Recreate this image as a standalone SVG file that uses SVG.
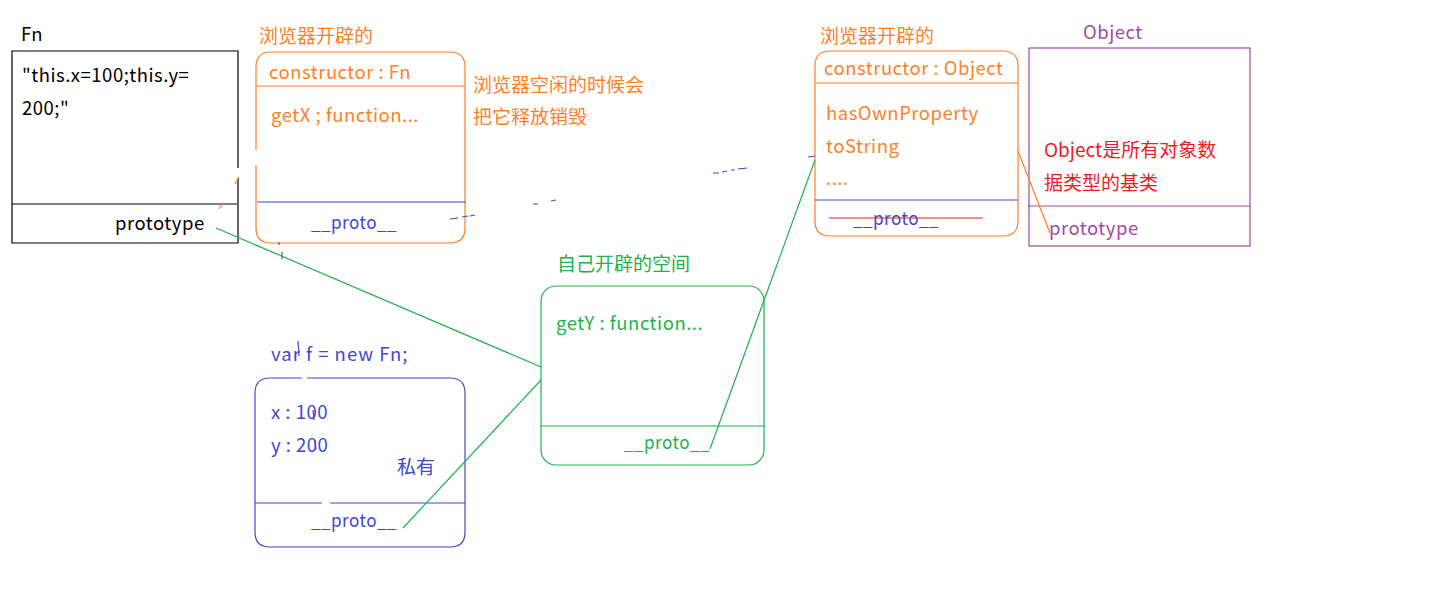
<svg xmlns="http://www.w3.org/2000/svg" width="1436" height="590" viewBox="0 0 1436 590">
<style>
text{font-family:"Noto Sans CJK SC","Noto Sans",sans-serif;font-size:18.5px;letter-spacing:0.5px}
text.c{font-size:19px;letter-spacing:0}
.k{fill:#000}.o{fill:#FF7F27}.b{fill:#3F48CC}.g{fill:#22B14C}.p{fill:#A349A4}.r{fill:#ED1C24}
.sk{stroke:#000}.so{stroke:#FF7F27}.sb{stroke:#3F48CC}.sg{stroke:#22B14C}.sp{stroke:#A349A4}.sr{stroke:#ED1C24}
line,rect,path{fill:none;stroke-width:1.2}
</style>
<rect width="1436" height="590" fill="#fff"/>
<g id="fn">
<path class="sk" d="M238,168 V51 H12 V243 H238 V178"/>
<line class="sk" x1="12" y1="204" x2="237" y2="204"/>
<text class="k" x="21" y="41">Fn</text>
<text class="k" x="22" y="82">"this.x=100;this.y=</text>
<text class="k" x="22" y="115">200;"</text>
<text class="k" x="115" y="230">prototype</text>
<line class="so" x1="235" y1="184" x2="239" y2="177"/>
<line class="so" x1="219" y1="209" x2="223" y2="203"/>
</g>
<g id="fnproto">
<path class="so" d="M256,150 V67 Q256,52 271,52 H450 Q465,52 465,67 V228 Q465,243 450,243 H271 Q256,243 256,228 V165"/>
<line class="so" x1="256" y1="86" x2="465" y2="86"/>
<line class="sb" x1="257" y1="202" x2="466" y2="202"/>
<text class="o c" x="259" y="43">浏览器开辟的</text>
<text class="o" x="269" y="79">constructor : Fn</text>
<text class="o" x="271" y="122">getX ; function...</text>
<text class="b" x="311" y="229" textLength="86" lengthAdjust="spacingAndGlyphs">__proto__</text>
<text class="o c" x="473" y="92">浏览器空闲的时候会</text>
<text class="o c" x="473" y="124">把它释放销毁</text>
<line class="sb" x1="279" y1="242" x2="279" y2="245"/>
<line class="sb" x1="282" y1="252" x2="282" y2="259"/>
</g>
<g id="objproto">
<path class="so" d="M815,66 Q815,51 830,51 H1003 Q1018,51 1018,66 V221 Q1018,236 1003,236 H830 Q815,236 815,221 Z"/>
<line class="so" x1="815" y1="83" x2="1018" y2="83"/>
<line class="sb" x1="815" y1="200" x2="1018" y2="200"/>
<text class="o c" x="820" y="43">浏览器开辟的</text>
<text class="o" x="824" y="75">constructor : Object</text>
<text class="o" x="826" y="120">hasOwnProperty</text>
<text class="o" x="826" y="153">toString</text>
<text class="o" x="826" y="185">....</text>
<text class="b" x="853" y="225" textLength="86" lengthAdjust="spacingAndGlyphs">__proto__</text>
<line class="sr" x1="829" y1="218" x2="983" y2="218"/>
</g>
<g id="object">
<rect class="sp" x="1029" y="48" width="221" height="198"/>
<line class="sp" x1="1028" y1="206" x2="1250" y2="206"/>
<text class="p" x="1083" y="39">Object</text>
<text class="r c" x="1044" y="157">Object是所有对象数</text>
<text class="r c" x="1044" y="190">据类型的基类</text>
<text class="p" x="1049" y="235">prototype</text>
</g>
<g id="own">
<rect class="sg" x="541" y="286" width="223" height="179" rx="15"/>
<line class="sg" x1="540" y1="426" x2="765" y2="426"/>
<text class="g c" x="557" y="271">自己开辟的空间</text>
<text class="g" x="556" y="330">getY : function...</text>
<text class="g" x="624" y="449" textLength="86" lengthAdjust="spacingAndGlyphs">__proto__</text>
</g>
<g id="f">
<path class="sb" d="M302,378 H270 Q255,378 255,393 V532 Q255,547 270,547 H450 Q465,547 465,532 V393 Q465,378 450,378 H307"/>
<line class="sb" x1="255" y1="503" x2="322" y2="503"/>
<line class="sb" x1="330" y1="503" x2="465" y2="503"/>
<text class="b" x="271" y="361" textLength="137" lengthAdjust="spacing">var f = new Fn;</text>
<text class="b" x="271" y="419">x : 100</text>
<text class="b" x="271" y="452">y : 200</text>
<text class="b c" x="397" y="474">私有</text>
<text class="b" x="311" y="527" textLength="86" lengthAdjust="spacingAndGlyphs">__proto__</text>
<line class="sb" x1="298" y1="341" x2="299" y2="356"/>
<line class="sb" x1="313" y1="410" x2="314" y2="420"/>
<line class="sb" x1="315" y1="440" x2="316" y2="450"/>
</g>
<g id="connectors">
<line class="sg" x1="216" y1="228" x2="541" y2="367"/>
<line class="sg" x1="541" y1="380" x2="403" y2="528"/>
<line class="sg" x1="710" y1="449" x2="815" y2="160"/>
<line class="so" x1="1018" y1="151" x2="1050" y2="233"/>
<path class="sb" d="M450,219 L458,218 M462,217 L468,216 M470,216 L475,215"/>
<path class="sb" d="M533,204 L538,204 M551,201 L556,200"/>
<path class="sb" d="M713,173 L719,173 M722,172 L727,171 M731,170 L735,170 M738,169 L747,168"/>
<path class="sb" d="M808,157 L815,156"/>
</g>
</svg>
